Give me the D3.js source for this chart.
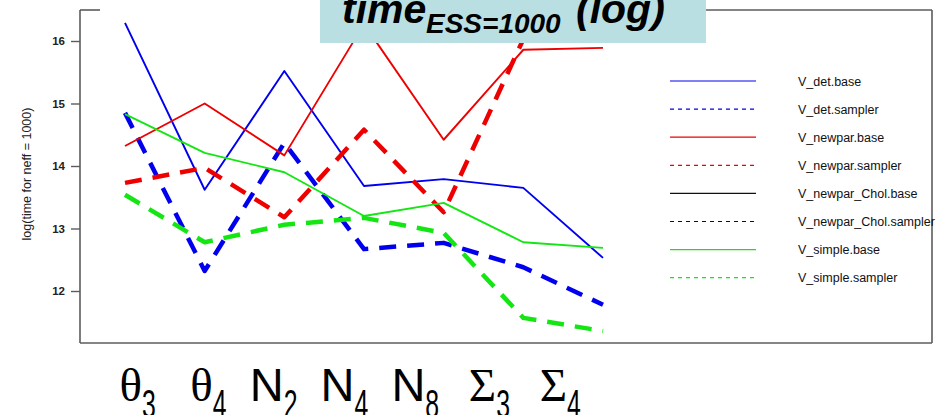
<!DOCTYPE html>
<html>
<head>
<meta charset="utf-8">
<script src="https://cdn.jsdelivr.net/npm/d3@7"></script>
<style>
  html, body { margin: 0; padding: 0; background: #fff; }
  svg { display: block; }
</style>
</head>
<body>
<svg id="chart" width="947" height="415"></svg>
<script>
// Parameters on the x axis (drawn as symbol + subscript)
const categories = ["θ3", "θ4", "N2", "N4", "N8", "Σ3", "Σ4"];
const catSymbol  = ["θ", "θ", "N", "N", "N", "Σ", "Σ"];
const catSub     = ["3", "4", "2", "4", "8", "3", "4"];

// log(time for neff = 1000) per parameter
const vDetBase        = [16.29, 13.62, 15.52, 13.68, 13.79, 13.65, 12.53];
const vDetSampler     = [14.85, 12.32, 14.37, 12.67, 12.77, 12.38, 11.78];
const vNewparBase     = [14.32, 15.00, 14.17, 16.27, 14.42, 15.86, 15.89];
const vNewparSampler  = [13.73, 13.97, 13.18, 14.58, 13.26, 16.03, 16.05];
const vSimpleBase     = [14.83, 14.21, 13.90, 13.20, 13.41, 12.78, 12.69];
const vSimpleSampler  = [13.54, 12.78, 13.06, 13.17, 12.93, 11.57, 11.36];

const yTicks = [12, 13, 14, 15, 16];

const legendNames = ["V_det.base", "V_det.sampler", "V_newpar.base", "V_newpar.sampler",
                     "V_newpar_Chol.base", "V_newpar_Chol.sampler", "V_simple.base", "V_simple.sampler"];

const blue = "#0000ee", red = "#ee0000", green = "#14e614", black = "#111111";

const series = [
  { name: "V_det.base",        values: vDetBase,       color: blue,  dashed: false },
  { name: "V_det.sampler",     values: vDetSampler,    color: blue,  dashed: true },
  { name: "V_newpar.base",     values: vNewparBase,    color: red,   dashed: false },
  { name: "V_newpar.sampler",  values: vNewparSampler, color: red,   dashed: true },
  { name: "V_simple.base",     values: vSimpleBase,    color: green, dashed: false },
  { name: "V_simple.sampler",  values: vSimpleSampler, color: green, dashed: true }
];
const legendStyle = [
  { color: blue, dashed: false }, { color: blue, dashed: true },
  { color: red, dashed: false },  { color: red, dashed: true },
  { color: black, dashed: false }, { color: black, dashed: true },
  { color: green, dashed: false }, { color: green, dashed: true }
];

const svg = d3.select("#chart");
const box = { left: 80, top: 10, right: 932, bottom: 343 };

const x = d3.scalePoint().domain(categories).range([125, 603]);
const y = d3.scaleLinear().domain([12, 16]).range([291, 41]);

// plot frame (top edge interrupted on the left)
const frame = svg.append("g").attr("stroke", "#5c5c5c").attr("stroke-width", 1.6).attr("fill", "none");
frame.append("line").attr("x1", box.left).attr("y1", box.top).attr("x2", box.left).attr("y2", box.bottom);
frame.append("line").attr("x1", box.left).attr("y1", box.bottom).attr("x2", box.right).attr("y2", box.bottom);
frame.append("line").attr("x1", box.right).attr("y1", box.top).attr("x2", box.right).attr("y2", box.bottom);
frame.append("line").attr("x1", box.left).attr("y1", box.top).attr("x2", 100).attr("y2", box.top);
frame.append("line").attr("x1", 706).attr("y1", box.top).attr("x2", box.right).attr("y2", box.top);

// y axis
const yAxis = svg.append("g")
  .attr("transform", `translate(${box.left},0)`)
  .call(d3.axisLeft(y).tickValues(yTicks).tickSize(9).tickPadding(6).tickFormat(d3.format("d")));
yAxis.select(".domain").remove();
yAxis.selectAll(".tick line").attr("stroke", "#5c5c5c").attr("stroke-width", 1.4);
yAxis.selectAll(".tick text")
  .attr("font-family", "'Liberation Sans', Arial, sans-serif")
  .attr("font-size", 11.5).attr("font-weight", "bold").attr("fill", "#222");

svg.append("text")
  .attr("transform", "translate(31,174) rotate(-90)")
  .attr("text-anchor", "middle")
  .attr("font-family", "'Liberation Sans', Arial, sans-serif")
  .attr("font-size", 12.5).attr("fill", "#222")
  .text("log(time for neff = 1000)");

// series lines
const line = d3.line().x((d, i) => x(categories[i])).y(d => y(d));
svg.append("g").selectAll("path").data(series).join("path")
  .attr("d", d => line(d.values))
  .attr("fill", "none")
  .attr("stroke", d => d.color)
  .attr("stroke-width", d => d.dashed ? 4.5 : 1.9)
  .attr("stroke-dasharray", d => d.dashed ? "17,11" : null)
  .attr("stroke-linejoin", "round");

// legend
const legend = svg.append("g");
const legRow = i => 81 + i * 28.1;
legendNames.forEach((name, i) => {
  const st = legendStyle[i];
  legend.append("line")
    .attr("x1", 670).attr("x2", 756).attr("y1", legRow(i)).attr("y2", legRow(i))
    .attr("stroke", st.color).attr("stroke-width", 1.2)
    .attr("stroke-dasharray", st.dashed ? "4,4" : null);
  legend.append("text")
    .attr("x", 798).attr("y", legRow(i) + 4.5)
    .attr("font-family", "'Liberation Sans', Arial, sans-serif")
    .attr("font-size", 12.5).attr("fill", "#111")
    .text(name);
});

// title banner
svg.append("rect").attr("x", 320).attr("y", 0).attr("width", 386).attr("height", 43)
  .attr("fill", "#b9dfe3");
const titleFont = "'Liberation Sans', Arial, sans-serif";
svg.append("text").attr("x", 342).attr("y", 23)
  .attr("font-family", titleFont).attr("font-size", 41).attr("font-weight", "bold")
  .attr("font-style", "italic").attr("fill", "#000").text("time");
svg.append("text").attr("x", 426).attr("y", 33)
  .attr("font-family", titleFont).attr("font-size", 28).attr("font-weight", "bold")
  .attr("font-style", "italic").attr("fill", "#000").text("ESS=1000");
svg.append("text").attr("x", 576).attr("y", 23)
  .attr("font-family", titleFont).attr("font-size", 41).attr("font-weight", "bold")
  .attr("font-style", "italic").attr("fill", "#000").text("(log)");

// x labels: symbol with subscript
const xl = d3.scalePoint().domain(categories).range([142, 567]);
const labels = svg.append("g").selectAll("g").data(categories).join("g")
  .attr("transform", d => `translate(${xl(d)},0)`);
labels.append("text")
  .attr("x", 0).attr("y", 401)
  .attr("text-anchor", "end")
  .attr("font-family", (d, i) => catSymbol[i] === "N" ? "'Liberation Sans', Arial, sans-serif" : "'Liberation Serif', 'Times New Roman', serif")
  .attr("font-size", 47).attr("fill", "#000")
  .text((d, i) => catSymbol[i]);
labels.append("text")
  .attr("transform", "translate(0,418) scale(0.62,1)")
  .attr("font-family", "'Liberation Sans', Arial, sans-serif")
  .attr("font-size", 40).attr("fill", "#000")
  .text((d, i) => catSub[i]);
</script>
</body>
</html>
